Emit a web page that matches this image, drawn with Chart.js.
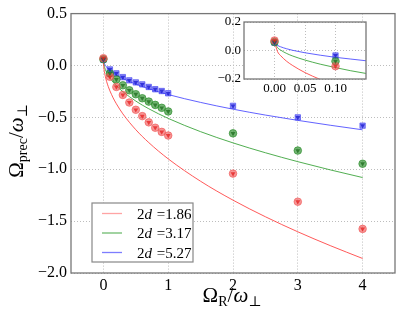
<!DOCTYPE html>
<html>
<head>
<meta charset="utf-8">
<script src="https://cdn.jsdelivr.net/npm/chart.js@4"></script>
<style>
  html, body { margin: 0; padding: 0; background: #fff; }
  #wrap { position: relative; width: 407px; height: 318px; }
  #main { position: absolute; left: 0; top: 0; }
  #inset { position: absolute; left: 200px; top: 0; }
</style>
</head>
<body>
<div id="wrap">
  <canvas id="main" width="407" height="318"></canvas>
  <canvas id="inset" width="207" height="100"></canvas>
</div>
<script>
// measured points (Omega_R / omega_perp)
const ptX = [0, 0.1, 0.2, 0.3, 0.4, 0.5, 0.6, 0.7, 0.8, 0.9, 1.0, 2, 3, 4];
const redPts = [0.07, -0.109, -0.207, -0.284, -0.357, -0.427, -0.488, -0.548, -0.600, -0.640, -0.675, -1.042, -1.313, -1.575];
const greenPts = [0.06, -0.077, -0.134, -0.191, -0.239, -0.277, -0.316, -0.348, -0.380, -0.408, -0.443, -0.654, -0.820, -0.947];
const bluePts = [0.055, -0.038, -0.076, -0.112, -0.143, -0.163, -0.182, -0.207, -0.229, -0.246, -0.268, -0.389, -0.500, -0.580];

// inset points
const insetX = [0, 0.1];
const insetRed = [0.07, -0.11];
const insetGreen = [0.06, -0.075];
const insetBlue = [0.055, -0.035];

// theory curves
const curveX = [0, 0.005, 0.01, 0.02, 0.03, 0.05, 0.075, 0.1, 0.125, 0.15, 0.2, 0.3, 0.5, 0.7, 1, 1.5, 2, 2.5, 3, 3.5, 4];
const redCurve = [0.06, -0.008, -0.036, -0.076, -0.106, -0.155, -0.203, -0.244, -0.279, -0.312, -0.369, -0.466, -0.619, -0.743, -0.90, -1.116, -1.298, -1.458, -1.603, -1.736, -1.86];
const greenCurve = [0.06, 0.020, 0.003, -0.021, -0.039, -0.067, -0.096, -0.120, -0.142, -0.161, -0.195, -0.252, -0.343, -0.417, -0.51, -0.638, -0.746, -0.841, -0.927, -1.006, -1.08];
const blueCurve = [0.06, 0.036, 0.026, 0.012, 0.001, -0.016, -0.033, -0.048, -0.060, -0.072, -0.092, -0.126, -0.180, -0.224, -0.28, -0.356, -0.421, -0.478, -0.529, -0.576, -0.62];

const legendLabels = ['1.86', '3.17', '5.27'];
const xTicks = [0, 1, 2, 3, 4];
const yTicks = [0.5, 0, -0.5, -1.0, -1.5, -2.0];
const insetXTicks = [0, 0.05, 0.1];
const insetYTicks = [0.2, 0, -0.2];

const SERIF = "'Liberation Serif', 'DejaVu Serif', serif";
const lineCols = ['rgba(255,60,60,0.85)', 'rgba(50,160,50,0.85)', 'rgba(70,70,255,0.85)'];
const lightCols = ['rgba(240,80,80,0.6)', 'rgba(40,140,40,0.65)', 'rgba(60,60,240,0.6)'];
const darkCols = ['rgba(230,30,30,0.75)', 'rgba(30,110,30,0.75)', 'rgba(30,30,210,0.8)'];
const lightStyles = ['circle', 'circle', 'rect'];

const pairs = (xs, ys) => xs.map((x, i) => ({ x: x, y: ys[i] }));
const minus = v => (v < 0 ? '\u2212' : '') + Math.abs(v);

function buildSets(xs, sets, r1, r2) {
  const out = [];
  // dark triangles on top, then light markers, then lines
  sets.forEach((ys, i) => out.push({
    type: 'scatter', data: pairs(xs, ys), pointStyle: 'triangle', rotation: 180,
    pointRadius: r2, backgroundColor: darkCols[i], borderWidth: 0
  }));
  sets.forEach((ys, i) => out.push({
    type: 'scatter', data: pairs(xs, ys), pointStyle: lightStyles[i],
    pointRadius: r1, backgroundColor: lightCols[i], borderColor: lightCols[i], borderWidth: 1
  }));
  [redCurve, greenCurve, blueCurve].forEach((ys, i) => out.push({
    type: 'line', data: pairs(curveX, ys), borderColor: lineCols[i], borderWidth: 1,
    pointRadius: 0, fill: false, cubicInterpolationMode: 'monotone'
  }));
  return out;
}

const framePlugin = {
  id: 'frame',
  beforeDraw(chart, args, opts) {
    const a = chart.chartArea, ctx = chart.ctx;
    if (opts.fill) {
      ctx.save();
      ctx.fillStyle = '#fff';
      ctx.fillRect(a.left, a.top, a.right - a.left, a.bottom - a.top);
      ctx.restore();
    }
  },
  afterDraw(chart) {
    const a = chart.chartArea, ctx = chart.ctx;
    ctx.save();
    ctx.strokeStyle = '#777';
    ctx.lineWidth = 1.3;
    ctx.strokeRect(a.left, a.top, a.right - a.left, a.bottom - a.top);
    ctx.restore();
  }
};

// draws a text run made of [text, size, italic, dy] pieces, centred on 0
function drawRuns(ctx, runs) {
  let w = 0;
  runs.forEach(r => {
    ctx.font = (r[2] ? 'italic ' : '') + r[1] + 'px ' + SERIF;
    w += ctx.measureText(r[0]).width;
  });
  let x = -w / 2;
  runs.forEach(r => {
    ctx.font = (r[2] ? 'italic ' : '') + r[1] + 'px ' + SERIF;
    ctx.fillText(r[0], x, r[3]);
    x += ctx.measureText(r[0]).width;
  });
}

const decorPlugin = {
  id: 'decor',
  afterDraw(chart) {
    const ctx = chart.ctx;
    ctx.save();
    ctx.fillStyle = '#000';
    ctx.textBaseline = 'alphabetic';
    ctx.textAlign = 'left';
    // x title
    ctx.save();
    ctx.translate(232, 302);
    drawRuns(ctx, [['\u03A9', 21, false, 0], ['R', 14, false, 4], ['/', 21, false, 0], ['\u03C9', 21, true, 0], ['\u22A5', 14, false, 4]]);
    ctx.restore();
    // y title
    ctx.save();
    ctx.translate(23, 141);
    ctx.rotate(-Math.PI / 2);
    drawRuns(ctx, [['\u03A9', 21, false, 0], ['prec', 14, false, 4], ['/', 21, false, 0], ['\u03C9', 21, true, 0], ['\u22A5', 14, false, 4]]);
    ctx.restore();
    // legend
    const bx = 92, by = 203, bw = 101, bh = 59;
    ctx.fillStyle = '#fff';
    ctx.fillRect(bx, by, bw, bh);
    ctx.strokeStyle = '#888';
    ctx.lineWidth = 1.2;
    ctx.strokeRect(bx, by, bw, bh);
    const legCols = ['rgba(255,90,90,0.55)', 'rgba(50,160,50,0.7)', 'rgba(70,70,255,0.7)'];
    legendLabels.forEach((lab, i) => {
      const y = 213.5 + i * 19.5;
      ctx.strokeStyle = legCols[i];
      ctx.lineWidth = 1.3;
      ctx.beginPath();
      ctx.moveTo(102, y);
      ctx.lineTo(122, y);
      ctx.stroke();
      ctx.fillStyle = '#000';
      let x = 137;
      ctx.font = '15px ' + SERIF;
      ctx.fillText('2', x, y + 5);
      x += ctx.measureText('2').width;
      ctx.font = 'italic 15px ' + SERIF;
      ctx.fillText('d', x, y + 5);
      x += ctx.measureText('d').width + 1;
      ctx.font = '15px ' + SERIF;
      ctx.fillText(' =' + lab, x, y + 5);
    });
    ctx.restore();
  }
};

function axisOpts(min, max, ticks, width, height, size, fmt, pad) {
  return {
    type: 'linear', min: min, max: max,
    afterBuildTicks: s => { s.ticks = ticks.map(v => ({ value: v })); },
    afterFit: s => { if (width != null) s.width = width; if (height != null) s.height = height; },
    grid: { color: '#bdbdbd', lineWidth: 1, drawTicks: false },
    border: { display: false, dash: [1, 2] },
    ticks: { color: '#000', font: { family: SERIF, size: size }, padding: pad, callback: fmt, maxRotation: 0, autoSkip: false }
  };
}

new Chart(document.getElementById('main').getContext('2d'), {
  type: 'scatter',
  data: { datasets: buildSets(ptX, [redPts, greenPts, bluePts], 3.8, 2.8) },
  options: {
    responsive: false, animation: false,
    layout: { padding: { left: 0, right: 12, top: 12, bottom: 0 } },
    plugins: { legend: { display: false }, tooltip: { enabled: false }, frame: { fill: false } },
    scales: {
      x: axisOpts(-0.5, 4.5, xTicks, null, 45, 16, v => minus(v), 3),
      y: axisOpts(-2.0, 0.5, yTicks, 71, null, 16, v => (v < 0 ? '\u2212' : '') + Math.abs(v).toFixed(1), 4)
    }
  },
  plugins: [framePlugin, decorPlugin]
});

new Chart(document.getElementById('inset').getContext('2d'), {
  type: 'scatter',
  data: { datasets: buildSets(insetX, [insetRed, insetGreen, insetBlue], 3.8, 2.8) },
  options: {
    responsive: false, animation: false,
    layout: { padding: { left: 0, right: 41, top: 22, bottom: 0 } },
    plugins: { legend: { display: false }, tooltip: { enabled: false }, frame: { fill: true } },
    scales: {
      x: axisOpts(-0.05, 0.15, insetXTicks, null, 21, 13, v => v.toFixed(2), 2),
      y: axisOpts(-0.2, 0.2, insetYTicks, 44, null, 13, v => (v < 0 ? '\u2212' : '') + Math.abs(v).toFixed(1), 3)
    }
  },
  plugins: [framePlugin]
});
</script>
</body>
</html>
